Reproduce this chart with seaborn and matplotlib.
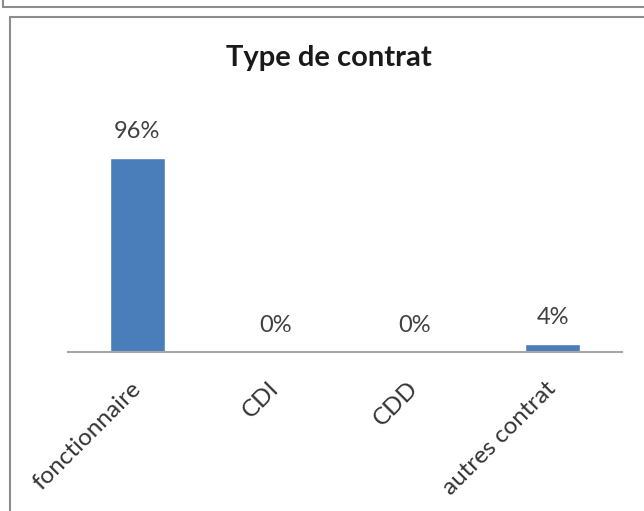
import matplotlib
matplotlib.use("Agg")
import matplotlib.pyplot as plt
import seaborn as sns
import pandas as pd
from matplotlib.lines import Line2D

categories = ["fonctionnaire", "CDI", "CDD", "autres contrat"]
pourcentages = [96, 0, 0, 4]
etiquettes = ["96%", "0%", "0%", "4%"]

sns.set_theme(style="white")
plt.rcParams["font.family"] = ["Lato", "DejaVu Sans"]

df = pd.DataFrame({"type": categories, "pct": pourcentages})

W, H = 644, 511
fig = plt.figure(figsize=(W / 100, H / 100), dpi=100)
ax = fig.add_axes([68 / W, 1 - 352 / H, (622 - 68) / W, (352 - 150) / H])

sns.barplot(data=df, x="type", y="pct", color="#4A7EBB", saturation=1,
            width=0.4, ax=ax)
ax.set_ylim(0, 100)
ax.set_xlim(-0.5, len(categories) - 0.5)

for i, (v, lab) in enumerate(zip(pourcentages, etiquettes)):
    ax.text(i, v + 13, lab, ha="center", va="center", fontsize=17,
            color="#404040", clip_on=False)

ax.set_yticks([])
ax.set_xlabel("")
ax.set_ylabel("")
for s in ["top", "right", "left"]:
    ax.spines[s].set_visible(False)
ax.spines["bottom"].set_color("#A6A6A6")
ax.spines["bottom"].set_linewidth(1.5)
ax.tick_params(axis="x", length=0, pad=24)
ax.set_xticks(range(len(categories)))
ax.set_xticklabels(categories, rotation=45, ha="right", va="center",
                   rotation_mode="anchor", fontsize=17.5, color="#333333")

fig.text(329 / W, 1 - 66 / H, "Type de contrat", ha="center", va="baseline",
         fontsize=21, fontweight="bold", color="#1A1A1A")

# cadres
def ligne(x0, y0, x1, y1):
    fig.add_artist(Line2D([x0 / W, x1 / W], [1 - y0 / H, 1 - y1 / H],
                          transform=fig.transFigure, color="#8C8C8C", lw=1.5))

ligne(3, 7, W, 7)
ligne(3, 0, 3, 7)
ligne(10, 17, W, 17)
ligne(10, 17, 10, H)

fig.savefig("out.png", dpi=100)
